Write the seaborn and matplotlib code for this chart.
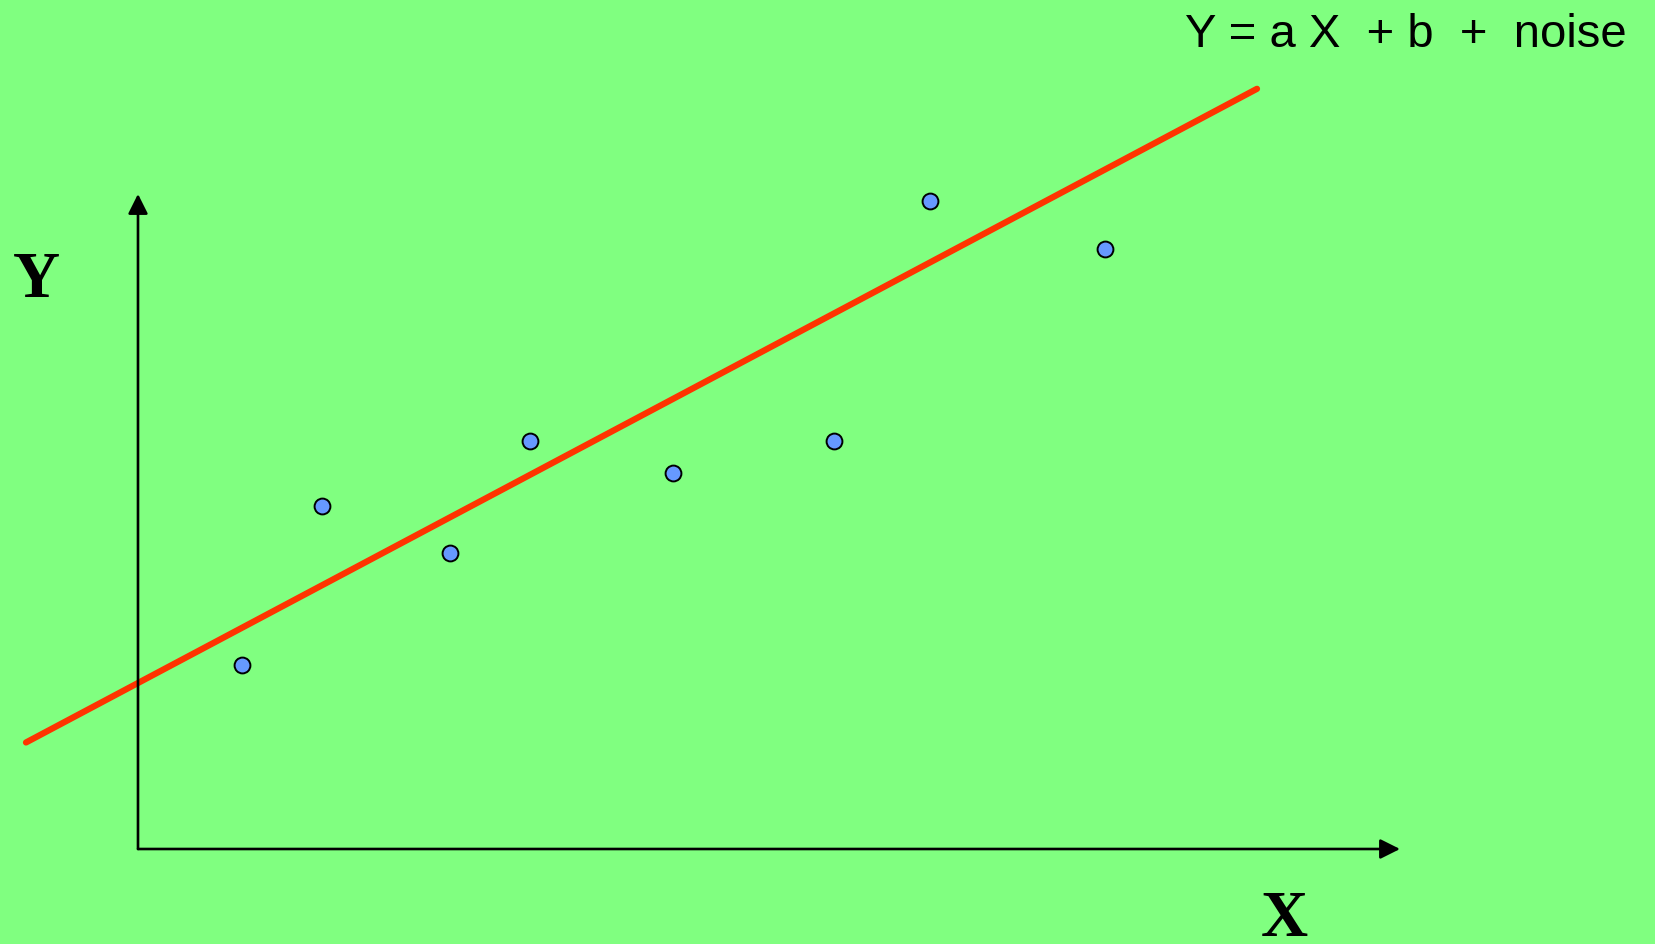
import matplotlib
matplotlib.use("Agg")
import matplotlib.pyplot as plt
import seaborn as sns
import numpy as np
import pandas as pd

# data (arbitrary units, origin at the drawn axes' corner)
x_points = [1.04, 1.84, 3.12, 3.92, 5.35, 6.96, 7.92, 9.67]
y_points = [1.84, 3.43, 2.96, 4.08, 3.76, 4.08, 6.48, 6.00]
slope_a = 0.531
intercept_b = 1.66
line_x = [-1.12, 11.19]
equation_text = "Y = a X  + b  +  noise"
x_label = "X"
y_label = "Y"

sns.set_theme(style="white")
plt.rcParams['font.family'] = ['Liberation Sans', 'DejaVu Sans']

bg = "#80FF80"
fig = plt.figure(figsize=(16.55, 9.44), dpi=100, facecolor=bg)
ax = fig.add_axes([0, 0, 1, 1])
ax.set_facecolor(bg)
ax.set_xlim(-1.38, 15.17)
ax.set_ylim(-0.95, 8.49)
ax.axis("off")

# axes arrows
ax.annotate("", xy=(12.62, 0), xytext=(0, 0),
            arrowprops=dict(arrowstyle="-|>,head_length=1.0,head_width=0.5",
                            color="black", lw=1.9, shrinkA=0, shrinkB=0))
ax.annotate("", xy=(0, 6.55), xytext=(0, 0),
            arrowprops=dict(arrowstyle="-|>,head_length=1.0,head_width=0.5",
                            color="black", lw=1.9, shrinkA=0, shrinkB=0))

# regression line
lx = np.array(line_x)
line_df = pd.DataFrame({"x": lx, "y": slope_a * lx + intercept_b})
sns.lineplot(data=line_df, x="x", y="y", ax=ax, color="#FF3300", lw=4.5)

# points
pts = pd.DataFrame({"x": x_points, "y": y_points})
sns.scatterplot(data=pts, x="x", y="y", ax=ax, s=130, color="#6699FF",
                edgecolor="black", linewidth=1.4, zorder=5)
ax.axis("off")

fig.text(1627 / 1655, 1 - 47 / 944, equation_text, ha="right", va="baseline",
         fontsize=34, color="black", family=["Liberation Sans", "DejaVu Sans"])
fig.text(36.5 / 1655, 1 - 297 / 944, y_label, ha="center", va="baseline",
         fontsize=47, fontweight="bold", color="black",
         family=["Liberation Serif", "DejaVu Serif"])
fig.text(1284 / 1655, 1 - 936 / 944, x_label, ha="center", va="baseline",
         fontsize=47, fontweight="bold", color="black",
         family=["Liberation Serif", "DejaVu Serif"])

fig.savefig("out.png", dpi=100, facecolor=bg)
